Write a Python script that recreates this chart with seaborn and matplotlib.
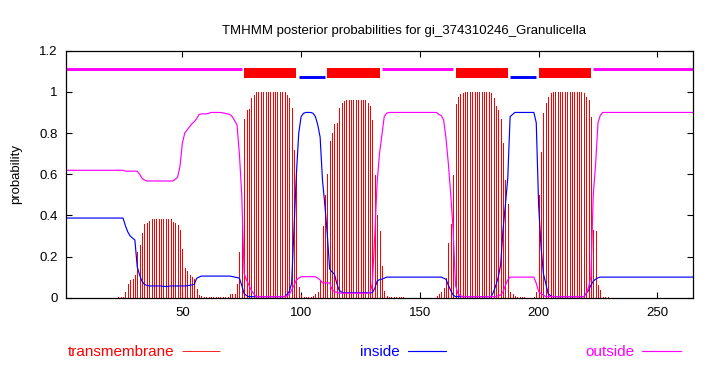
import numpy as np
import pandas as pd
import matplotlib
matplotlib.use("Agg")
import matplotlib.pyplot as plt
import seaborn as sns

sns.set_theme(style="ticks")
plt.rcParams["font.family"] = ["Liberation Sans", "DejaVu Sans"]

TITLE = "TMHMM posterior probabilities for gi_374310246_Granulicella"

# posterior probability per residue (1..265)
transmembrane = [
    0, 0, 0, 0, 0, 0, 0, 0, 0, 0,
    0, 0, 0, 0, 0, 0, 0, 0, 0, 0,
    0, 0, 0.005, 0.005, 0.005, 0.03, 0.066, 0.086, 0.09, 0.11,
    0.22, 0.256, 0.313, 0.358, 0.365, 0.374, 0.38, 0.384, 0.384, 0.384,
    0.384, 0.384, 0.384, 0.384, 0.384, 0.37, 0.364, 0.355, 0.327, 0.237,
    0.145, 0.128, 0.11, 0.10, 0.09, 0.04, 0.015, 0.008, 0.005, 0.005,
    0.005, 0.005, 0.005, 0.005, 0.005, 0.005, 0.005, 0.005, 0.005, 0.02,
    0.02, 0.02, 0.066, 0.224, 0.353, 0.866, 0.91, 0.915, 0.969, 0.985,
    1.0, 1.0, 1.0, 1.0, 1.0, 1.0, 1.0, 1.0, 1.0, 1.0,
    1.0, 1.0, 1.0, 0.985, 0.969, 0.923, 0.718, 0.596, 0.05, 0.015,
    0.005, 0.005, 0.005, 0.005, 0.01, 0.016, 0.03, 0.08, 0.35, 0.5,
    0.6, 0.76, 0.80, 0.845, 0.85, 0.92, 0.944, 0.955, 0.96, 0.96,
    0.96, 0.96, 0.96, 0.96, 0.96, 0.96, 0.96, 0.944, 0.93, 0.864,
    0.596, 0.4, 0.325, 0.154, 0.032, 0.01, 0.005, 0.005, 0.005, 0.005,
    0.005, 0.005, 0.005, 0, 0, 0, 0, 0, 0, 0,
    0, 0, 0, 0, 0, 0, 0.01, 0.02, 0.03, 0.049,
    0.094, 0.264, 0.36, 0.596, 0.94, 0.977, 0.99, 0.995, 1.0, 1.0,
    1.0, 1.0, 1.0, 1.0, 1.0, 1.0, 1.0, 1.0, 1.0, 0.993,
    0.97, 0.93, 0.91, 0.87, 0.75, 0.57, 0.455, 0.03, 0.02, 0.01,
    0.005, 0.005, 0.005, 0.005, 0, 0, 0, 0.005, 0.03, 0.5,
    0.71, 0.896, 0.944, 0.977, 0.996, 1.0, 1.0, 1.0, 1.0, 1.0,
    1.0, 1.0, 1.0, 1.0, 1.0, 1.0, 1.0, 1.0, 0.993, 0.977,
    0.96, 0.88, 0.33, 0.325, 0.06, 0.037, 0.005, 0.005, 0.005, 0,
    0, 0, 0, 0, 0, 0, 0, 0, 0, 0,
    0, 0, 0, 0, 0, 0, 0, 0, 0, 0,
    0, 0, 0, 0, 0, 0, 0, 0, 0, 0,
    0, 0, 0, 0, 0,
]

inside = [
    0.387, 0.387, 0.387, 0.387, 0.387, 0.387, 0.387, 0.387, 0.387, 0.387,
    0.387, 0.387, 0.387, 0.387, 0.387, 0.387, 0.387, 0.387, 0.387, 0.387,
    0.387, 0.387, 0.387, 0.387, 0.387, 0.35, 0.32, 0.30, 0.29, 0.28,
    0.15, 0.11, 0.08, 0.065, 0.06, 0.057, 0.057, 0.057, 0.057, 0.057,
    0.057, 0.055, 0.055, 0.055, 0.057, 0.057, 0.057, 0.057, 0.057, 0.057,
    0.057, 0.058, 0.06, 0.062, 0.065, 0.094, 0.1, 0.105, 0.105, 0.105,
    0.105, 0.105, 0.105, 0.105, 0.105, 0.105, 0.105, 0.105, 0.105, 0.105,
    0.103, 0.1, 0.098, 0.095, 0.06, 0.02, 0.01, 0.005, 0.005, 0.005,
    0.005, 0.005, 0.005, 0.005, 0.005, 0.005, 0.005, 0.005, 0.005, 0.005,
    0.005, 0.005, 0.005, 0.015, 0.03, 0.07, 0.33, 0.6, 0.8, 0.88,
    0.896, 0.9, 0.9, 0.9, 0.896, 0.88, 0.84, 0.78, 0.57, 0.45,
    0.31, 0.14, 0.125, 0.115, 0.07, 0.037, 0.027, 0.024, 0.024, 0.024,
    0.024, 0.024, 0.024, 0.024, 0.024, 0.024, 0.024, 0.024, 0.024, 0.024,
    0.045, 0.08, 0.088, 0.09, 0.095, 0.1, 0.1, 0.1, 0.1, 0.1,
    0.1, 0.1, 0.1, 0.1, 0.1, 0.1, 0.1, 0.1, 0.1, 0.1,
    0.1, 0.1, 0.1, 0.1, 0.1, 0.1, 0.1, 0.1, 0.1, 0.095,
    0.089, 0.06, 0.035, 0.013, 0.005, 0.005, 0.005, 0.005, 0.005, 0.005,
    0.005, 0.005, 0.005, 0.005, 0.005, 0.005, 0.005, 0.005, 0.005, 0.005,
    0.028, 0.06, 0.1, 0.16, 0.33, 0.45, 0.58, 0.88, 0.89, 0.9,
    0.9, 0.9, 0.9, 0.9, 0.9, 0.9, 0.9, 0.9, 0.85, 0.45,
    0.25, 0.118, 0.07, 0.02, 0.01, 0.005, 0.005, 0.005, 0.005, 0.005,
    0.005, 0.005, 0.005, 0.005, 0.005, 0.005, 0.005, 0.005, 0.005, 0.02,
    0.035, 0.06, 0.08, 0.09, 0.097, 0.1, 0.1, 0.1, 0.1, 0.1,
    0.1, 0.1, 0.1, 0.1, 0.1, 0.1, 0.1, 0.1, 0.1, 0.1,
    0.1, 0.1, 0.1, 0.1, 0.1, 0.1, 0.1, 0.1, 0.1, 0.1,
    0.1, 0.1, 0.1, 0.1, 0.1, 0.1, 0.1, 0.1, 0.1, 0.1,
    0.1, 0.1, 0.1, 0.1, 0.1,
]

outside = [
    0.619, 0.619, 0.619, 0.619, 0.619, 0.619, 0.619, 0.619, 0.619, 0.619,
    0.619, 0.619, 0.619, 0.619, 0.619, 0.619, 0.619, 0.619, 0.619, 0.619,
    0.619, 0.619, 0.619, 0.619, 0.619, 0.615, 0.615, 0.615, 0.615, 0.615,
    0.614, 0.6, 0.58, 0.572, 0.567, 0.567, 0.567, 0.567, 0.567, 0.567,
    0.567, 0.567, 0.567, 0.567, 0.567, 0.567, 0.575, 0.585, 0.64, 0.75,
    0.80, 0.815, 0.83, 0.845, 0.855, 0.87, 0.89, 0.893, 0.893, 0.893,
    0.895, 0.9, 0.9, 0.9, 0.9, 0.9, 0.898, 0.896, 0.893, 0.89,
    0.88, 0.86, 0.84, 0.70, 0.5, 0.118, 0.086, 0.062, 0.037, 0.02,
    0.005, 0.005, 0.005, 0.005, 0.005, 0.005, 0.005, 0.005, 0.005, 0.005,
    0.005, 0.005, 0.005, 0.01, 0.015, 0.037, 0.06, 0.085, 0.095, 0.102,
    0.102, 0.102, 0.102, 0.102, 0.102, 0.102, 0.095, 0.086, 0.072, 0.072,
    0.072, 0.072, 0.04, 0.03, 0.026, 0.022, 0.022, 0.022, 0.022, 0.022,
    0.022, 0.022, 0.022, 0.022, 0.022, 0.022, 0.022, 0.022, 0.022, 0.07,
    0.3, 0.56, 0.7, 0.79, 0.88, 0.896, 0.9, 0.9, 0.9, 0.9,
    0.9, 0.9, 0.9, 0.9, 0.9, 0.9, 0.9, 0.9, 0.9, 0.9,
    0.9, 0.9, 0.9, 0.9, 0.9, 0.9, 0.9, 0.89, 0.885, 0.864,
    0.775, 0.65, 0.5, 0.33, 0.06, 0.02, 0.01, 0.005, 0.005, 0.005,
    0.005, 0.005, 0.005, 0.005, 0.005, 0.005, 0.005, 0.005, 0.005, 0.005,
    0.005, 0.005, 0.01, 0.013, 0.028, 0.06, 0.086, 0.1, 0.1, 0.1,
    0.1, 0.1, 0.1, 0.1, 0.1, 0.1, 0.1, 0.1, 0.07, 0.03,
    0.02, 0.013, 0.005, 0.005, 0.005, 0.005, 0.005, 0.005, 0.005, 0.005,
    0.005, 0.005, 0.005, 0.005, 0.005, 0.005, 0.005, 0.005, 0.005, 0.02,
    0.05, 0.1, 0.5, 0.65, 0.85, 0.887, 0.9, 0.9, 0.9, 0.9,
    0.9, 0.9, 0.9, 0.9, 0.9, 0.9, 0.9, 0.9, 0.9, 0.9,
    0.9, 0.9, 0.9, 0.9, 0.9, 0.9, 0.9, 0.9, 0.9, 0.9,
    0.9, 0.9, 0.9, 0.9, 0.9, 0.9, 0.9, 0.9, 0.9, 0.9,
    0.9, 0.9, 0.9, 0.9, 0.9,
]

# predicted topology (residue ranges)
topo_start = [1, 76, 99, 111, 134, 165, 188, 200, 223]
topo_end = [75, 98, 110, 133, 164, 187, 199, 222, 265]
topo_kind = ["outside", "TM", "inside", "TM", "outside", "TM", "inside", "TM", "outside"]

y_ticks = [0, 0.2, 0.4, 0.6, 0.8, 1, 1.2]
y_tick_labels = ["0", "0.2", "0.4", "0.6", "0.8", "1", "1.2"]
x_ticks = [50, 100, 150, 200, 250]

df = pd.DataFrame({
    "residue": np.arange(1, len(transmembrane) + 1),
    "transmembrane": transmembrane,
    "inside": inside,
    "outside": outside,
})

fig = plt.figure(figsize=(7.1, 3.7), dpi=100)
fig.patch.set_facecolor("white")
ax = fig.add_axes([66 / 710, 72.3 / 370, 627 / 710, 247 / 370])

# impulses for the transmembrane probability
tm = ax.vlines(df["residue"], 0, df["transmembrane"], colors="red",
               linewidth=0.6, antialiased=False)
sns.lineplot(data=df, x="residue", y="inside", color="blue", linewidth=0.85, ax=ax)
sns.lineplot(data=df, x="residue", y="outside", color="magenta", linewidth=0.85, ax=ax)
line_in, line_out = ax.lines[0], ax.lines[1]

# topology bars above the plot
style = {"TM": ("red", 1.092, 7.2), "inside": ("blue", 1.071, 2.1), "outside": ("magenta", 1.113, 2.1)}
for s, e, k in zip(topo_start, topo_end, topo_kind):
    c, yy, lw = style[k]
    h = ax.hlines(yy, s, e, colors=c, linewidth=lw)
    h.set_capstyle("butt")

ax.set_xlim(1, 265)
ax.set_ylim(0, 1.2)
ax.set_xticks(x_ticks)
ax.set_yticks(y_ticks)
ax.set_yticklabels(y_tick_labels)
ax.tick_params(direction="in", top=True, right=True, length=4, width=0.8,
               labelsize=9.5, colors="black")
ax.tick_params(axis="x", pad=7)
ax.tick_params(axis="y", pad=6)
for sp in ax.spines.values():
    sp.set_color("black")
    sp.set_linewidth(0.9)

ax.set_xlabel("")
ax.set_ylabel("probability", fontsize=9.5, color="black")
ax.yaxis.set_label_coords(-0.07, 0.5)
ax.set_title(TITLE, fontsize=9.5, pad=12, color="black", x=0.539)

ax.legend([tm, line_in, line_out], ["transmembrane", "inside", "outside"],
          loc="center left", bbox_to_anchor=(68 / 710, 18 / 370),
          bbox_transform=fig.transFigure, ncol=3, frameon=False,
          markerfirst=False, labelcolor=["red", "blue", "magenta"],
          handlelength=2.5, handletextpad=0.5, columnspacing=9.15,
          borderpad=0, borderaxespad=0, fontsize=11)

fig.savefig("out.png", dpi=100, facecolor="white")
